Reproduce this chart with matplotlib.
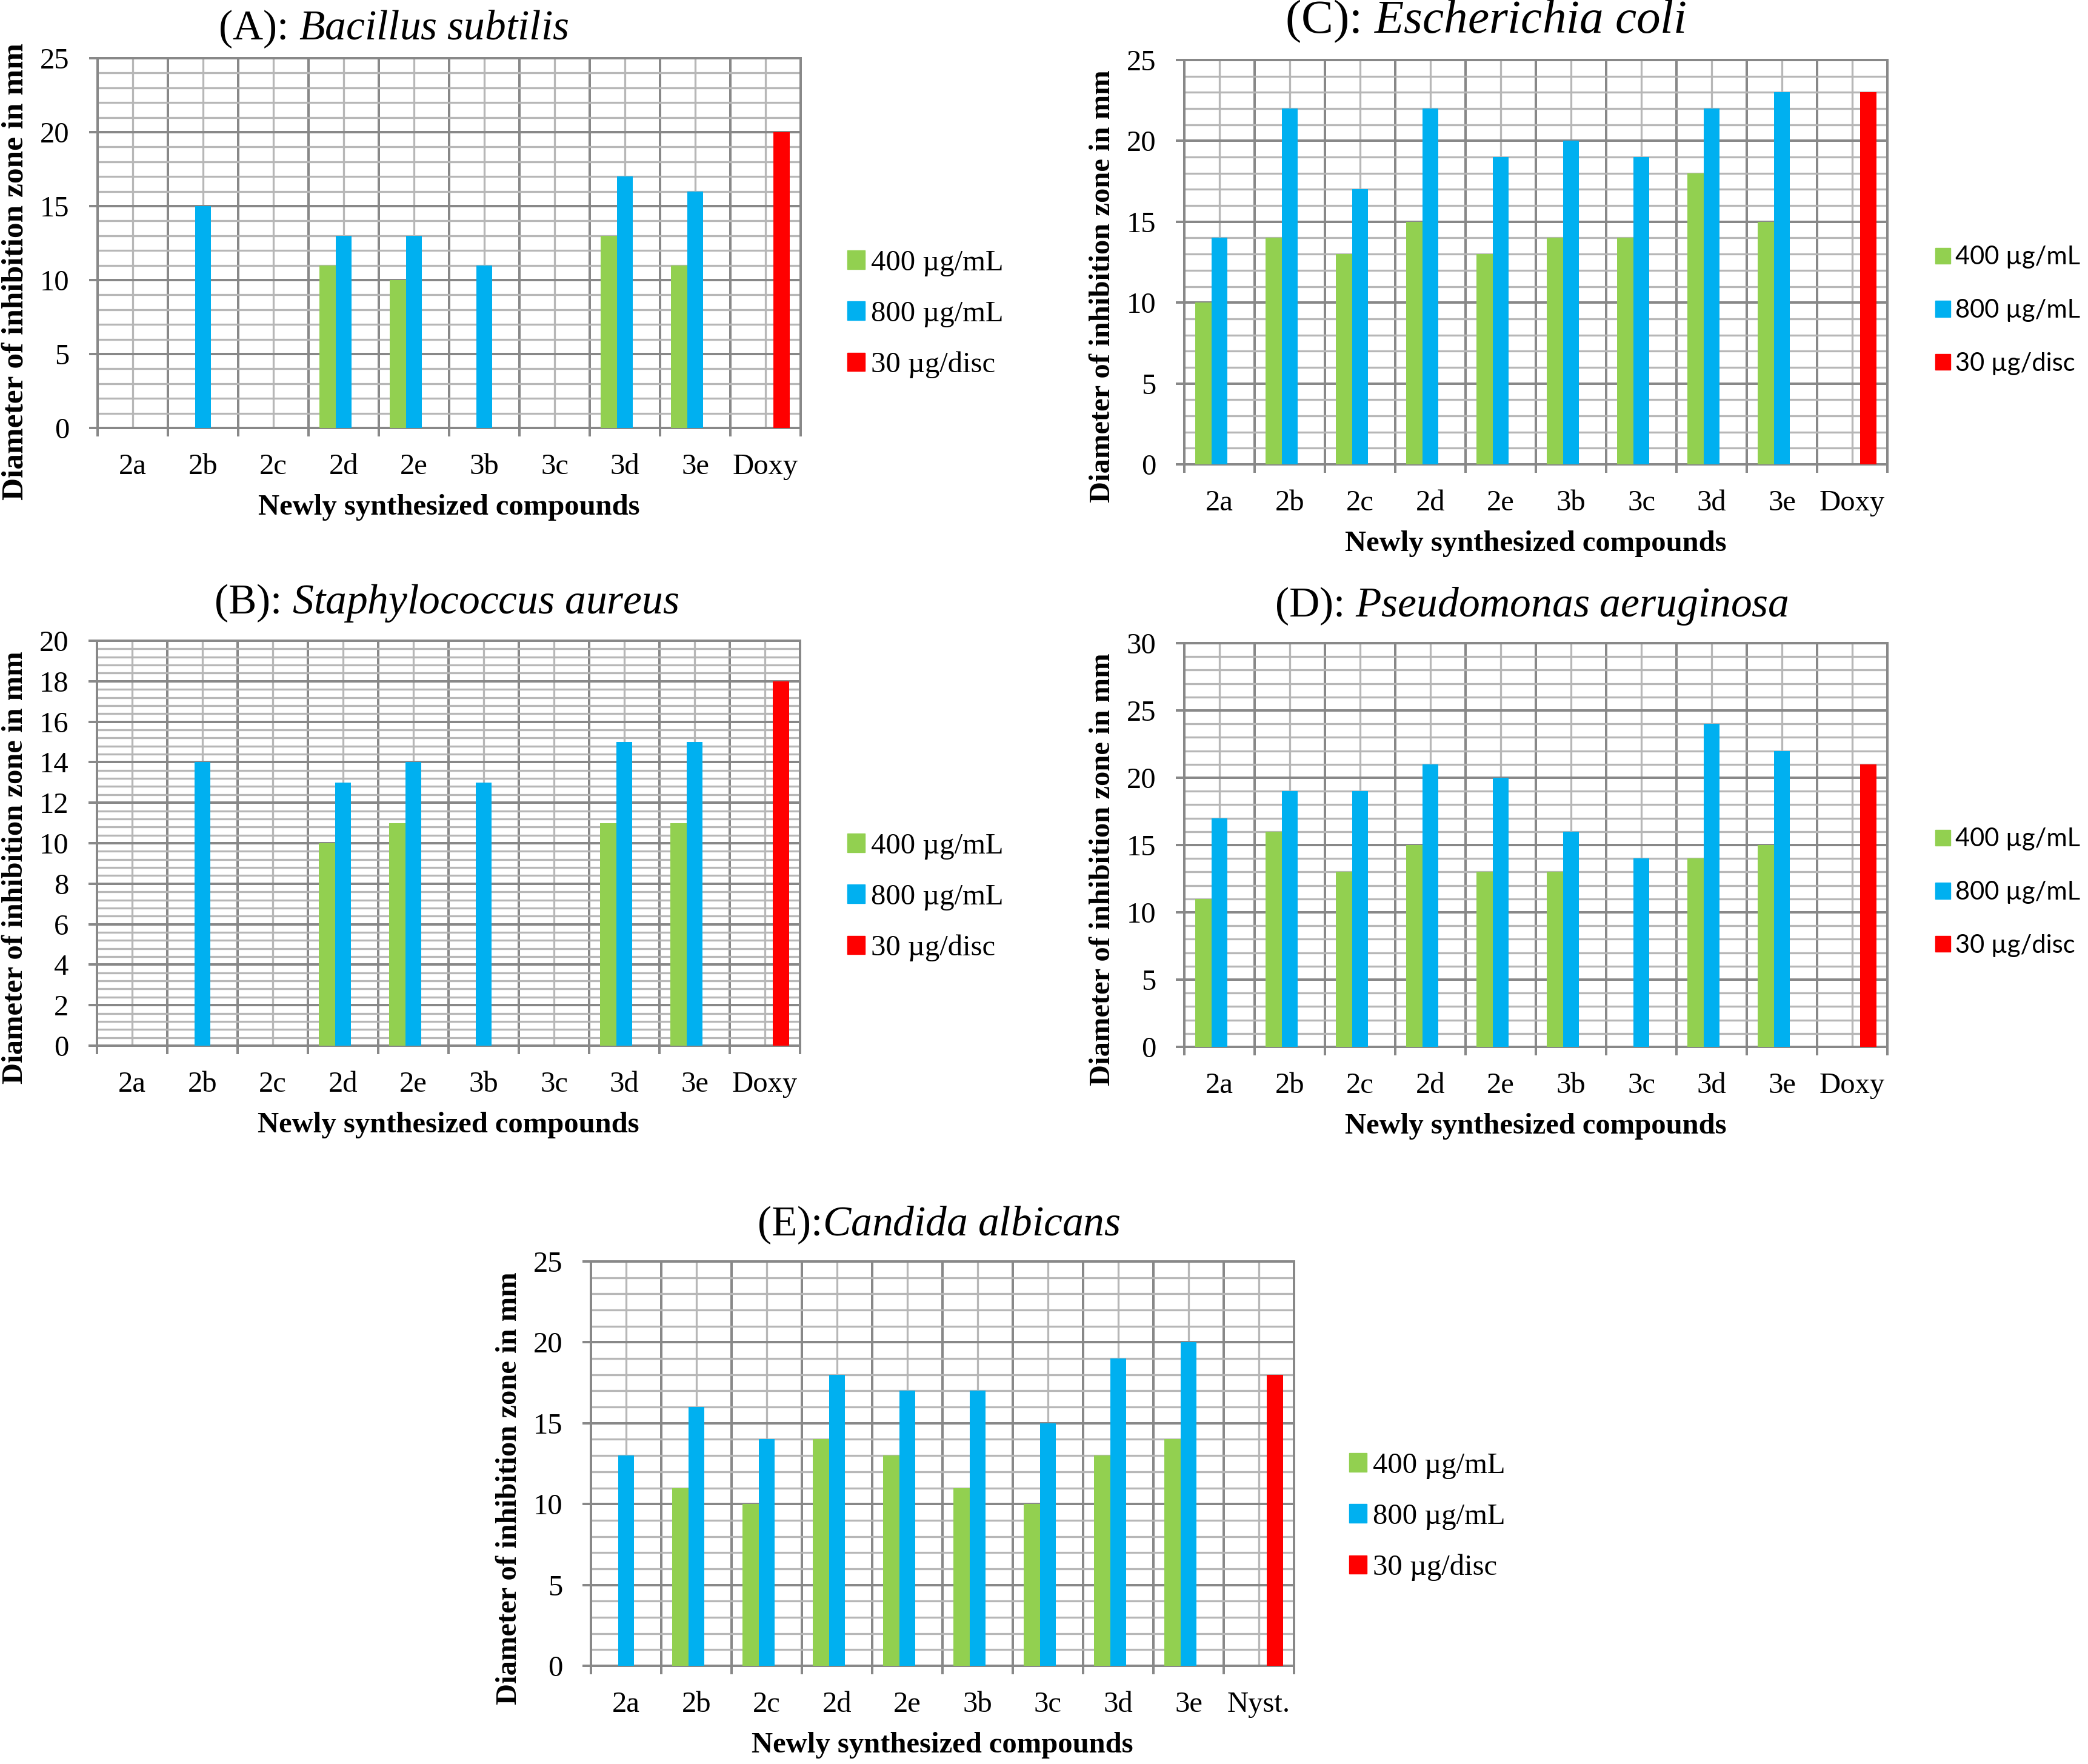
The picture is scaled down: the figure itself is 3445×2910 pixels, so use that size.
import numpy as np
import matplotlib
matplotlib.use("Agg")
import matplotlib.pyplot as plt
from matplotlib.patches import Patch

plt.rcParams['font.family'] = ['Liberation Serif', 'DejaVu Serif']
plt.rcParams['mathtext.fontset'] = 'custom'
plt.rcParams['mathtext.rm'] = 'Liberation Serif'
plt.rcParams['mathtext.it'] = 'Liberation Serif:italic'

compounds = ['2a', '2b', '2c', '2d', '2e', '3b', '3c', '3d', '3e']
series_names = ['400 µg/mL', '800 µg/mL', '30 µg/disc']

# (A) Bacillus subtilis
a_400 = [0, 0, 0, 11, 10, 0, 0, 13, 11]
a_800 = [0, 15, 0, 13, 13, 11, 0, 17, 16]
a_ref = 20
# (B) Staphylococcus aureus
b_400 = [0, 0, 0, 10, 11, 0, 0, 11, 11]
b_800 = [0, 14, 0, 13, 14, 13, 0, 15, 15]
b_ref = 18
# (C) Escherichia coli
c_400 = [10, 14, 13, 15, 13, 14, 14, 18, 15]
c_800 = [14, 22, 17, 22, 19, 20, 19, 22, 23]
c_ref = 23
# (D) Pseudomonas aeruginosa
d_400 = [11, 16, 13, 15, 13, 13, 0, 14, 15]
d_800 = [17, 19, 19, 21, 20, 16, 14, 24, 22]
d_ref = 21
# (E) Candida albicans
e_400 = [0, 11, 10, 14, 13, 11, 10, 13, 14]
e_800 = [13, 16, 14, 18, 17, 17, 15, 19, 20]
e_ref = 18

GREEN = '#92D050'
BLUE = '#00B0F0'
RED = '#FF0000'
DARK = '#888888'
LIGHT = '#b7b7b7'

W, H = 3445, 2910
fig = plt.figure(figsize=(W / 100, H / 100), dpi=100)


def px(v):
    # pixels -> points at 100 dpi
    return v * 0.72


def panel(box, tag, species, title_xy, title_size, v400, v800, ref, ref_name, ymax, ystep,
          legend_xy, legend_family, legend_size, legend_gap, ylabel_size, ylabel_shift):
    left, top, right, bottom = box
    ax = fig.add_axes([left / W, 1 - bottom / H, (right - left) / W, (bottom - top) / H])
    n = len(v400) + 1
    x = np.arange(n) + 0.5
    w = 0.23
    g = list(v400) + [0]
    b = list(v800) + [0]
    r = [0] * (n - 1) + [ref]
    ax.bar(x - w, g, w, color=GREEN, linewidth=0, zorder=3)
    ax.bar(x, b, w, color=BLUE, linewidth=0, zorder=3)
    ax.bar(x + w, r, w, color=RED, linewidth=0, zorder=3)

    ax.set_xlim(0, n)
    ax.set_ylim(0, ymax)
    ax.set_yticks(np.arange(0, ymax + 0.01, ystep))
    ax.set_yticks(np.arange(0, ymax + 0.01, ystep / 5), minor=True)
    ax.set_xticks(np.arange(0, n + 1))
    ax.set_xticklabels([])
    ax.set_xticks(x, minor=True)
    ax.set_xticklabels(compounds + [ref_name], minor=True)

    ax.grid(which='major', color=DARK, linewidth=px(4), zorder=1)
    ax.grid(which='minor', color=LIGHT, linewidth=px(3.3), zorder=0)
    ax.set_axisbelow(True)
    for s in ax.spines.values():
        s.set_color(DARK)
        s.set_linewidth(px(4))
    ax.tick_params(which='major', length=px(14), width=px(4), color=DARK,
                   labelsize=35, pad=px(33))
    ax.tick_params(which='minor', length=0, labelsize=35)
    ax.tick_params(axis='x', which='minor', pad=px(42))

    ax.annotate('Diameter of inhibition zone in mm', xy=(0, 0.5), xycoords='axes fraction',
                xytext=(-px(135), -px(ylabel_shift)), textcoords='offset points', rotation=90,
                ha='center', va='center', fontsize=ylabel_size, fontweight='bold')
    ax.annotate('Newly synthesized compounds', xy=(0.5, 0), xycoords='axes fraction',
                xytext=(0, -px(131)), textcoords='offset points',
                ha='center', va='center', fontsize=35, fontweight='bold')

    fig.text(title_xy[0] / W, 1 - title_xy[1] / H,
             tag + r'$\mathit{' + species.replace(' ', r'\ ') + '}$',
             ha='center', va='center', fontsize=title_size)

    handles = [Patch(color=c) for c in (GREEN, BLUE, RED)]
    ax.legend(handles, series_names, loc='center left',
              bbox_to_anchor=(legend_xy[0] / W, 1 - legend_xy[1] / H),
              bbox_transform=fig.transFigure, frameon=False,
              prop={'family': legend_family, 'size': legend_size},
              handlelength=0.6, handleheight=0.6, handletextpad=0.2,
              labelspacing=legend_gap, borderpad=0, borderaxespad=0)
    return ax


serif = ['Liberation Serif']
sans = ['Lato', 'DejaVu Sans']

panel((161, 96, 1321, 706), '(A): ', 'Bacillus subtilis', (649, 48), 50,
      a_400, a_800, a_ref, 'Doxy', 25, 5, (1398, 518), serif, 35, 0.82, 37, 47)
panel((160, 1057, 1320, 1725), '(B): ', 'Staphylococcus aureus', (737, 995), 50,
      b_400, b_800, b_ref, 'Doxy', 20, 2, (1398, 1480), serif, 35, 0.82, 35, 40)
panel((1954, 99, 3114, 766), '(C): ', 'Escherichia coli', (2451, 35), 57,
      c_400, c_800, c_ref, 'Doxy', 25, 5, (3193, 512), sans, 30, 1.19, 35, 40)
panel((1954, 1061, 3114, 1727), '(D): ', 'Pseudomonas aeruginosa', (2527, 1000), 50,
      d_400, d_800, d_ref, 'Doxy', 30, 5, (3193, 1472), sans, 30, 1.19, 35, 40)
panel((975, 2081, 2135, 2748), '(E):', 'Candida albicans', (1549, 2021), 50,
      e_400, e_800, e_ref, 'Nyst.', 25, 5, (2226, 2502), serif, 35, 0.82, 35, 41)

fig.savefig('out.png', dpi=100)
